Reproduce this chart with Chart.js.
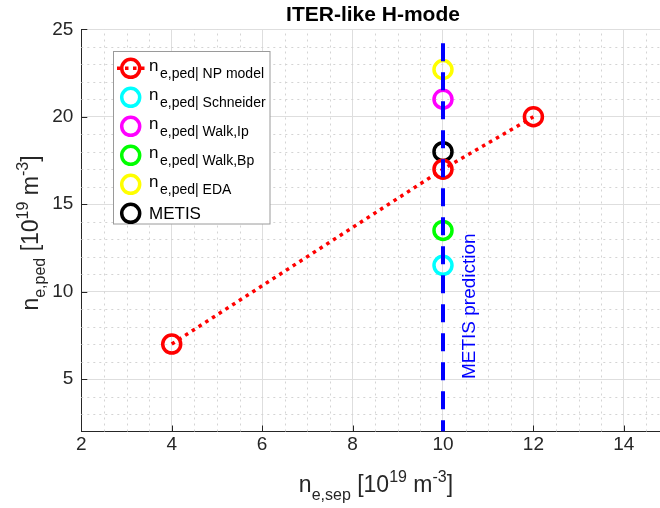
<!DOCTYPE html>
<html>
<head>
<meta charset="utf-8">
<script src="https://cdn.jsdelivr.net/npm/chart.js@4.4.0/dist/chart.umd.min.js"></script>
<style>
  html, body { margin: 0; padding: 0; background: #fff; }
  #wrap { width: 660px; height: 508px; }
</style>
</head>
<body>
<div id="wrap"><canvas id="plot" width="660" height="508"></canvas></div>
<script>
const FONT = '"Liberation Sans", Arial, Helvetica, sans-serif';
const INK  = '#262626';

// axes: n_e,sep (x) vs n_e,ped (y), both in 1e19 m^-3
const xRange = [2, 14.8];
const yRange = [2, 25];
const xTicks = [2, 4, 6, 8, 10, 12, 14];
const yTicks = [5, 10, 15, 20, 25];

// NP model curve
const npSep = [4, 10, 12];
const npPed = [7, 17, 20];

// scaling-law estimates, all at n_e,sep = 10
const scalingNames  = ['Schneider', 'Walk,Ip', 'Walk,Bp', 'EDA'];
const scalingColors = ['#00ffff', '#ff00ff', '#00ff00', '#ffff00'];
const scalingSep = 10;
const scalingPed = [11.5, 21, 13.5, 22.7];

// METIS point and its vertical prediction line
const metisSep = 10;
const metisPed = 18;
const metisLine = [24.2, 2];          // top -> bottom
const metisText = 'METIS prediction';
const metisTextAt = [10.6, 5];

const title = 'ITER-like H-mode';

const pointStyle = (color) => ({
    pointStyle: 'circle',
    pointRadius: 9,
    pointHoverRadius: 9,
    pointBorderWidth: 3.5,
    pointBorderColor: color,
    pointBackgroundColor: 'rgba(0,0,0,0)',
    borderColor: color,
    showLine: false
});

const datasets = [
    {
        label: 'NP model', sub: true,
        data: npSep.map((x, i) => ({ x, y: npPed[i] })),
        ...pointStyle('#ff0000'),
        showLine: true,
        borderWidth: 3.5,
        borderDash: [3.5, 4.5]
    },
    ...scalingNames.map((name, i) => ({
        label: name, sub: true,
        data: [{ x: scalingSep, y: scalingPed[i] }],
        ...pointStyle(scalingColors[i])
    })),
    {
        label: 'METIS', sub: false,
        data: [{ x: metisSep, y: metisPed }],
        ...pointStyle('#000000')
    },
    {
        label: '', legend: false,
        data: metisLine.map(y => ({ x: metisSep, y })),
        showLine: true,
        borderColor: '#0000ff',
        borderWidth: 4,
        borderDash: [18, 11],
        pointRadius: 0,
        order: -1
    }
];

/* ---------- rich text (sub / superscripts) ---------- */
function drawRich(ctx, parts, cx, base, size, small) {
    const fontOf = p => `${p.s ? small : size}px ${FONT}`;
    let w = 0;
    for (const p of parts) { ctx.font = fontOf(p); w += ctx.measureText(p.t).width; }
    let xx = cx - w / 2;
    ctx.textAlign = 'left';
    ctx.textBaseline = 'alphabetic';
    for (const p of parts) {
        ctx.font = fontOf(p);
        const dy = p.s === 'sub' ? size * 0.33 : p.s === 'sup' ? -size * 0.42 : 0;
        ctx.fillText(p.t, xx, base + dy);
        xx += ctx.measureText(p.t).width;
    }
}

const xLabel = [{ t: 'n' }, { t: 'e,sep', s: 'sub' }, { t: ' [10' }, { t: '19', s: 'sup' },
                { t: ' m' }, { t: '-3', s: 'sup' }, { t: ']' }];
const yLabel = [{ t: 'n' }, { t: 'e,ped', s: 'sub' }, { t: ' [10' }, { t: '19', s: 'sup' },
                { t: ' m' }, { t: '-3', s: 'sup' }, { t: ']' }];

/* ---------- minor grid, inner ticks, labels, legend ---------- */
const decor = {
    id: 'decor',
    beforeDatasetsDraw(chart) {
        const { ctx, chartArea: a, scales: { x, y } } = chart;
        ctx.save();
        ctx.lineWidth = 1;
        ctx.strokeStyle = '#d4d4d4';
        ctx.setLineDash([2, 4]);
        for (let v = xRange[0] + 0.5; v < xRange[1]; v += 0.5) {
            if (xTicks.includes(v)) continue;
            const px = Math.round(x.getPixelForValue(v)) + 0.5;
            ctx.beginPath(); ctx.moveTo(px, a.bottom); ctx.lineTo(px, a.top); ctx.stroke();
        }
        for (let v = yRange[0] + 1; v < yRange[1]; v += 1) {
            if (yTicks.includes(v)) continue;
            const py = Math.round(y.getPixelForValue(v)) + 0.5;
            ctx.beginPath(); ctx.moveTo(a.left, py); ctx.lineTo(a.right, py); ctx.stroke();
        }
        // tick marks point into the axes
        ctx.setLineDash([]);
        ctx.strokeStyle = INK;
        for (const v of xTicks) {
            const px = Math.round(x.getPixelForValue(v)) + 0.5;
            ctx.beginPath(); ctx.moveTo(px, a.bottom); ctx.lineTo(px, a.bottom - 6); ctx.stroke();
        }
        for (const v of yTicks) {
            const py = Math.round(y.getPixelForValue(v)) + 0.5;
            ctx.beginPath(); ctx.moveTo(a.left, py); ctx.lineTo(a.left + 6, py); ctx.stroke();
        }
        ctx.restore();
    },
    afterDraw(chart) {
        const { ctx, scales: { x, y } } = chart;
        ctx.save();

        // title
        ctx.fillStyle = '#000';
        ctx.font = `bold 21px ${FONT}`;
        ctx.textAlign = 'center';
        ctx.textBaseline = 'alphabetic';
        ctx.fillText(title, 373, 20.5);

        // axis titles
        ctx.fillStyle = INK;
        drawRich(ctx, xLabel, 376, 492, 23, 16);
        ctx.save();
        ctx.translate(37.5, 233);
        ctx.rotate(-Math.PI / 2);
        drawRich(ctx, yLabel, 0, 0, 23, 16);
        ctx.restore();

        // vertical label next to the METIS line
        ctx.save();
        ctx.translate(x.getPixelForValue(metisTextAt[0]), y.getPixelForValue(metisTextAt[1]));
        ctx.rotate(-Math.PI / 2);
        ctx.fillStyle = '#0000ff';
        ctx.font = `19px ${FONT}`;
        ctx.textAlign = 'left';
        ctx.textBaseline = 'middle';
        ctx.fillText(metisText, 0, 0);
        ctx.restore();

        // legend
        const bx = 113.5, by = 51.5, bw = 156.5, bh = 172.5;
        ctx.fillStyle = '#fff';
        ctx.fillRect(bx, by, bw, bh);
        ctx.strokeStyle = '#9a9a9a';
        ctx.lineWidth = 1;
        ctx.strokeRect(bx, by, bw, bh);

        const items = chart.data.datasets.filter(d => d.legend !== false);
        items.forEach((d, i) => {
            const ry = 68.3 + i * 29;
            const mx = 130.7;
            if (d.showLine) {
                ctx.save();
                ctx.strokeStyle = d.borderColor;
                ctx.lineWidth = d.borderWidth;
                ctx.setLineDash(d.borderDash || []);
                ctx.beginPath(); ctx.moveTo(117, ry); ctx.lineTo(144.5, ry); ctx.stroke();
                ctx.restore();
            }
            ctx.strokeStyle = d.pointBorderColor;
            ctx.lineWidth = d.pointBorderWidth;
            ctx.beginPath(); ctx.arc(mx, ry, d.pointRadius, 0, Math.PI * 2); ctx.stroke();

            ctx.fillStyle = '#000';
            ctx.textAlign = 'left';
            ctx.textBaseline = 'alphabetic';
            if (d.sub) {
                ctx.font = `17px ${FONT}`;
                ctx.fillText('n', 149, ry + 2.5);
                ctx.font = `14px ${FONT}`;
                ctx.fillText('e,ped| ' + d.label, 160, ry + 10);
            } else {
                ctx.font = `17px ${FONT}`;
                ctx.fillText(d.label, 149, ry + 5.5);
            }
        });
        ctx.restore();
    }
};

const setTicks = (list) => (scale) => { scale.ticks = list.map(value => ({ value })); };

new Chart(document.getElementById('plot'), {
    type: 'scatter',
    data: { datasets },
    plugins: [decor],
    options: {
        responsive: false,
        animation: false,
        devicePixelRatio: 1,
        events: [],
        layout: { autoPadding: false, padding: { top: 29.3, right: 0, left: 0, bottom: 0 } },
        plugins: { legend: { display: false }, title: { display: false }, tooltip: { enabled: false } },
        scales: {
            x: {
                type: 'linear',
                min: xRange[0], max: xRange[1],
                afterBuildTicks: setTicks(xTicks),
                afterFit: (s) => { s.height = 76.5; s.paddingLeft = 0; s.paddingRight = 0; },
                grid: { color: '#dedede', lineWidth: 1, drawTicks: false },
                border: { display: true, color: INK, width: 1 },
                ticks: {
                    autoSkip: false, maxRotation: 0, padding: 2,
                    color: INK, font: { family: FONT, size: 19 }
                }
            },
            y: {
                type: 'linear',
                min: yRange[0], max: yRange[1],
                afterBuildTicks: setTicks(yTicks),
                afterFit: (s) => { s.width = 81.3; s.paddingTop = 0; s.paddingBottom = 0; },
                grid: { color: '#dedede', lineWidth: 1, drawTicks: false },
                border: { display: true, color: INK, width: 1 },
                ticks: {
                    autoSkip: false, padding: 8,
                    color: INK, font: { family: FONT, size: 19 }
                }
            }
        }
    }
});
</script>
</body>
</html>
